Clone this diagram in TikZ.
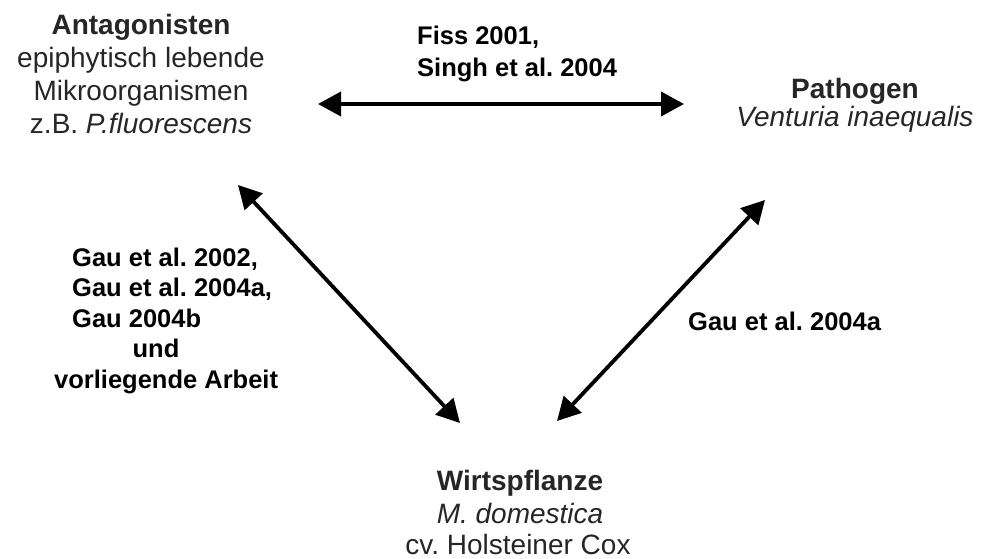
\documentclass[tikz,border=0pt]{standalone}
\usepackage{fontspec}
\setmainfont{Liberation Sans}
\usetikzlibrary{arrows.meta}
\definecolor{ink}{HTML}{262626}
\frenchspacing
\begin{document}
\frenchspacing
\begin{tikzpicture}[x=1pt,y=-1pt,
  ntxt/.style={inner sep=0pt, anchor=base, text=ink, font=\fontsize{28}{32}\selectfont},
  nhead/.style={inner sep=0pt, anchor=base, text=ink, font=\fontsize{28}{32}\selectfont\bfseries},
  lbl/.style={inner sep=0pt, anchor=base west, text=black, font=\fontsize{25.5}{30}\selectfont\bfseries},
  rel/.style={line width=3.8pt, {Triangle[length=23pt,width=24pt]}-{Triangle[length=23pt,width=24pt]}}
]
\useasboundingbox (0,0) rectangle (982,559);
% Antagonisten
\node[nhead] (antA) at (141,35) {Antagonisten};
\node[ntxt] (antB) at (141,68) {epiphytisch lebende};
\node[ntxt] (antC) at (141,101) {Mikroorganismen};
\node[ntxt] (antD) at (141,133) {z.B. \textit{P.fluorescens}};
% Pathogen
\node[nhead] (patA) at (855,99) {Pathogen};
\node[ntxt] (patB) at (855,127) {\textit{Venturia inaequalis}};
% Wirtspflanze
\node[nhead] (wirA) at (520,490) {Wirtspflanze};
\node[ntxt] (wirB) at (520,523) {\textit{M. domestica}};
\node[ntxt] (wirC) at (518,554) {cv. Holsteiner Cox};
% labels
\node[lbl] (fiss) at (417,45) {Fiss 2001,};
\node[lbl] (singh) at (417,77) {Singh et al. 2004};
\node[lbl] (gauA) at (72,266) {Gau et al. 2002,};
\node[lbl] (gauB) at (72,296.5) {Gau et al. 2004a,};
\node[lbl] (gauC) at (72,327) {Gau 2004b};
\node[lbl, anchor=base] (und) at (156,357.5) {und};
\node[lbl] (vorl) at (54,388) {vorliegende Arbeit};
\node[lbl] (gauR) at (688,330) {Gau et al. 2004a};
% connectors
\coordinate (h1) at (318,104);
\coordinate (h2) at (684,104);
\coordinate (l1) at (238,185);
\coordinate (l2) at (460,423);
\coordinate (r1) at (765,200);
\coordinate (r2) at (557,421);
\draw[rel] (h1) -- (h2);
\draw[rel] (l1) -- (l2);
\draw[rel] (r1) -- (r2);
\end{tikzpicture}
\end{document}
